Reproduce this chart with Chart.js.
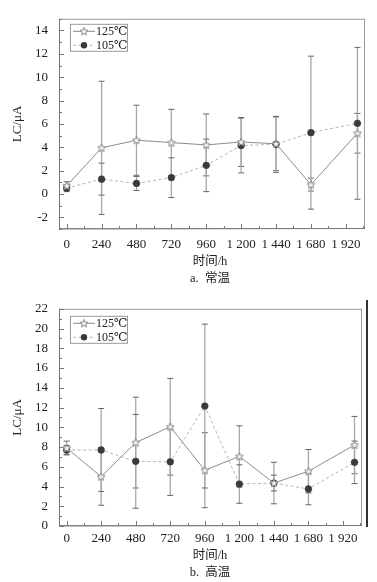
<!DOCTYPE html>
<html><head><meta charset="utf-8">
<script src="https://cdn.jsdelivr.net/npm/chart.js@4.4.1/dist/chart.umd.min.js"></script>
<style>
html,body{margin:0;padding:0;background:#fff;}
#wrap{position:relative;width:377px;height:582px;overflow:hidden;background:#fff;}
.c{position:absolute;left:0;width:377px;}
.lbl{position:absolute;left:110px;width:200px;text-align:center;font-family:"Liberation Serif","Noto Sans CJK SC",serif;font-size:12.5px;color:#222;line-height:14px;}
#edge{position:absolute;left:366px;top:300px;width:1.5px;height:227px;background:#333;}
</style></head>
<body>
<div id="wrap">
  <div class="c" style="top:0;height:290px;"><canvas id="ca" width="377" height="290"></canvas></div>
  <div class="c" style="top:290px;height:292px;"><canvas id="cb" width="377" height="292"></canvas></div>
  <div class="lbl" style="top:254px;">时间/h</div>
  <div class="lbl" style="top:271px;">a.&nbsp; 常温</div>
  <div class="lbl" style="top:548px;">时间/h</div>
  <div class="lbl" style="top:565px;">b.&nbsp; 高温</div>
  <div id="edge"></div>
</div>
<script>
// ---- data ----
const xVals = [0, 240, 480, 720, 960, 1200, 1440, 1680, 2000];
const xTickVals = [0, 240, 480, 720, 960, 1200, 1440, 1680, 1920];
const xTickLabels = ['0', '240', '480', '720', '960', '1 200', '1 440', '1 680', '1 920'];
const seriesNames = ['125\u2103', '105\u2103'];

// a. 常温
const a125    = [0.70, 3.95, 4.60, 4.40, 4.20, 4.45, 4.30, 0.80, 5.20];
const a125Err = [0.35, 5.70, 3.00, 2.85, 2.65, 2.10, 2.30, 0.55, 1.70];
const a105    = [0.50, 1.27, 0.90, 1.40, 2.45, 4.15, 4.25, 5.25, 6.05];
const a105Err = [0.30, 1.37, 0.60, 1.70, 2.25, 2.35, 2.40, 6.55, 6.50];
const aYTicks = [-2, 0, 2, 4, 6, 8, 10, 12, 14];

// b. 高温
const b125    = [7.90, 5.00, 8.45, 10.05, 5.65, 7.05, 4.35, 5.55, 8.20];
const b125Err = [0.70, 2.90, 4.60, 4.90, 3.80, 3.10, 2.10, 2.20, 2.90];
const b105    = [7.70, 7.70, 6.55, 6.50, 12.15, 4.25, 4.35, 3.75, 6.45];
const b105Err = [0.45, 4.20, 4.75, 3.40, 8.30, 1.95, 0.80, 1.60, 2.15];
const bYTicks = [0, 2, 4, 6, 8, 10, 12, 14, 16, 18, 20, 22];

// ---- styles ----
const SERIF = '"Liberation Serif", "DejaVu Serif", serif';
function makeStar() {
  const c = document.createElement('canvas');
  c.width = 10; c.height = 10;
  const g = c.getContext('2d');
  g.beginPath();
  for (let i = 0; i < 10; i++) {
    const r = i % 2 === 0 ? 4.2 : 1.9;
    const a = -Math.PI / 2 + i * Math.PI / 5;
    const px = 5 + r * Math.cos(a), py = 5.3 + r * Math.sin(a);
    if (i === 0) g.moveTo(px, py); else g.lineTo(px, py);
  }
  g.closePath();
  g.fillStyle = '#f2f2f2';
  g.fill();
  g.strokeStyle = '#8a8a8a';
  g.lineWidth = 1;
  g.stroke();
  return c;
}
const starImg = makeStar();

const errPlugin = {
  id: 'errbars',
  beforeDatasetsDraw(chart) {
    const ctx = chart.ctx, ys = chart.scales.y, xs = chart.scales.x;
    chart.data.datasets.forEach(ds => {
      ctx.save();
      ds.data.forEach((p, i) => {
        const e = ds.errs[i];
        const px = xs.getPixelForValue(p.x);
        const top = ys.getPixelForValue(p.y + e), bot = ys.getPixelForValue(p.y - e);
        ctx.strokeStyle = ds.errColor;
        ctx.lineWidth = 1.3;
        ctx.beginPath(); ctx.moveTo(px, top); ctx.lineTo(px, bot); ctx.stroke();
        ctx.strokeStyle = '#666';
        ctx.lineWidth = 1;
        ctx.beginPath();
        ctx.moveTo(px - 3, top); ctx.lineTo(px + 3, top);
        ctx.moveTo(px - 3, bot); ctx.lineTo(px + 3, bot);
        ctx.stroke();
      });
      ctx.restore();
    });
  }
};

const framePlugin = {
  id: 'frame',
  beforeDatasetsDraw(chart) {
    const ctx = chart.ctx, a = chart.chartArea, ys = chart.scales.y, xs = chart.scales.x;
    ctx.save();
    ctx.strokeStyle = '#999';
    ctx.lineWidth = 1;
    ctx.strokeRect(a.left + 0.5, a.top + 0.5, a.right - a.left - 1, a.bottom - a.top - 1);
    ctx.strokeStyle = '#777';
    ctx.beginPath();
    ctx.moveTo(a.left + 0.5, a.top); ctx.lineTo(a.left + 0.5, a.bottom);
    ctx.lineTo(a.right, a.bottom - 0.5);
    for (let v = Math.ceil(ys.min); v <= ys.max; v++) {
      const py = Math.round(ys.getPixelForValue(v)) + 0.5;
      const len = (v % 2 === 0) ? 5 : 3;
      ctx.moveTo(a.left, py); ctx.lineTo(a.left + len, py);
    }
    for (let v = 0; v <= xs.max; v += 120) {
      const px = Math.round(xs.getPixelForValue(v)) + 0.5;
      const len = (v % 240 === 0) ? 5 : 3;
      ctx.moveTo(px, a.bottom); ctx.lineTo(px, a.bottom - len);
    }
    ctx.stroke();
    ctx.restore();
  }
};

const legendPlugin = {
  id: 'boxlegend',
  afterDraw(chart) {
    const o = chart.options.plugins.boxlegend;
    const ctx = chart.ctx, a = chart.chartArea;
    const bx = a.left + 11, by = a.top + o.dy;
    ctx.save();
    ctx.fillStyle = '#fff';
    ctx.fillRect(bx, by, 58, 28);
    ctx.strokeStyle = '#999';
    ctx.lineWidth = 1;
    ctx.strokeRect(bx + 0.5, by + 0.5, 57, 27);
    const rows = [by + 7.5, by + 21.5];
    chart.data.datasets.forEach((ds, i) => {
      const yy = rows[i];
      ctx.strokeStyle = ds.borderColor;
      ctx.lineWidth = 1;
      ctx.setLineDash(ds.borderDash || []);
      ctx.beginPath(); ctx.moveTo(bx + 3, yy); ctx.lineTo(bx + 25, yy); ctx.stroke();
      ctx.setLineDash([]);
      const mx = bx + 14;
      if (ds.pointStyle === starImg) {
        ctx.drawImage(starImg, mx - 5, yy - 5);
      } else {
        ctx.fillStyle = ds.pointBackgroundColor;
        ctx.beginPath(); ctx.arc(mx, yy, 3.2, 0, Math.PI * 2); ctx.fill();
      }
      ctx.fillStyle = '#222';
      ctx.font = '12px ' + SERIF;
      ctx.textBaseline = 'middle';
      ctx.textAlign = 'left';
      ctx.fillText(ds.label, bx + 26, yy + 0.5);
    });
    ctx.restore();
  }
};

function makeChart(id, v125, e125, v105, e105, yMin, yMax, yTicks, cfg) {
  const pts = v => xVals.map((x, i) => ({ x: x, y: v[i] }));
  return new Chart(document.getElementById(id), {
    type: 'line',
    data: {
      datasets: [
        {
          label: seriesNames[0], data: pts(v125), errs: e125, errColor: '#a8a8a8',
          borderColor: '#8c8c8c', borderWidth: 1, pointStyle: starImg,
          pointRadius: 4.5, pointBackgroundColor: '#f2f2f2', pointBorderColor: '#8a8a8a',
          tension: 0, order: 1
        },
        {
          label: seriesNames[1], data: pts(v105), errs: e105, errColor: '#a8a8a8',
          borderColor: '#b4b4b4', borderWidth: 1, borderDash: [3, 2.5], pointStyle: 'circle',
          pointRadius: 3.4, pointBackgroundColor: '#3a3a3a', pointBorderColor: '#3a3a3a', pointBorderWidth: 0.5,
          tension: 0, order: 2
        }
      ]
    },
    options: {
      responsive: false, animation: false, events: [],
      layout: { padding: { top: cfg.padTop, right: cfg.padRight, left: 0, bottom: 0 } },
      plugins: { legend: { display: false }, tooltip: { enabled: false }, boxlegend: { dy: cfg.legendDy } },
      scales: {
        x: {
          type: 'linear', min: -53, max: 2052,
          afterBuildTicks: s => { s.ticks = xTickVals.map(v => ({ value: v })); },
          afterFit: s => { s.height = cfg.xAxisH; },
          grid: { display: false, drawTicks: false },
          border: { display: false },
          ticks: {
            padding: cfg.xTickPad, color: '#222', font: { family: SERIF, size: 13 },
            autoSkip: false, maxRotation: 0,
            callback: (v) => { const k = xTickVals.indexOf(v); return k >= 0 ? xTickLabels[k] : ''; }
          }
        },
        y: {
          min: yMin, max: yMax,
          afterBuildTicks: s => { s.ticks = yTicks.map(v => ({ value: v })); },
          afterFit: s => { s.width = 59; },
          grid: { display: false, drawTicks: false },
          border: { display: false },
          ticks: { padding: 11, color: '#222', font: { family: SERIF, size: 13 },
            callback: v => String(v) },
          title: { display: true, text: 'LC/\u03bcA', color: '#222', font: { family: SERIF, size: 13 }, padding: { top: 10, bottom: 0 } }
        }
      }
    },
    plugins: [framePlugin, errPlugin, legendPlugin]
  });
}

makeChart('ca', a125, a125Err, a105, a105Err, -3, 15, aYTicks,
  { padTop: 4, padRight: 12, xAxisH: 61, xTickPad: 8, legendDy: 5 });
makeChart('cb', b125, b125Err, b105, b105Err, 0, 22, bYTicks,
  { padTop: 12, padRight: 15, xAxisH: 56, xTickPad: 5, legendDy: 7 });
</script>
</body></html>
